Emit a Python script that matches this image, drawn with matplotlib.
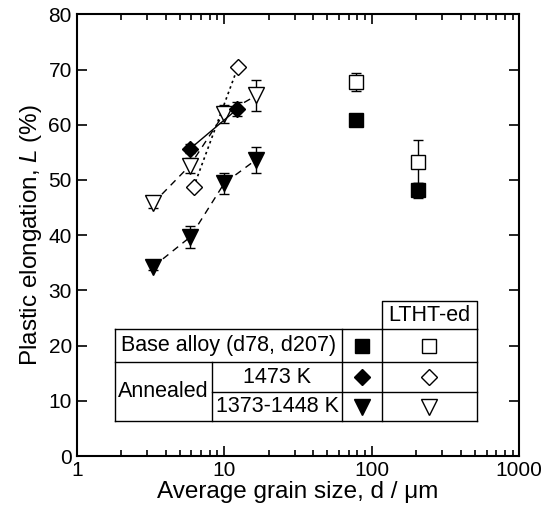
import matplotlib
matplotlib.use("Agg")
import matplotlib.pyplot as plt

plt.rcParams["font.family"] = ["Liberation Sans", "DejaVu Sans"]
plt.rcParams["mathtext.fontset"] = "custom"
plt.rcParams["mathtext.it"] = "Liberation Sans:italic"

# --- data ---
# base alloy (d78, d207)
base_d = [78, 207]
base_L = [60.9, 48.1]
base_err = [1.1, 1.3]
base_lt_L = [67.7, 53.3]
base_lt_err = [1.6, 3.9]

# annealed at 1473 K
ann1473_d = [5.9, 12.2]
ann1473_L = [55.7, 62.8]
ann1473_err = [0.8, 1.3]
ann1473_lt_d = [6.2, 12.4]
ann1473_lt_L = [48.7, 70.5]

# annealed at 1373-1448 K
ann1373_d = [3.3, 5.9, 10.0, 16.3]
ann1373_L = [34.3, 39.7, 49.4, 53.6]
ann1373_err = [0.6, 2.0, 1.9, 2.3]
ann1373_lt_d = [3.3, 5.85, 9.9, 16.5]
ann1373_lt_L = [45.8, 52.6, 61.9, 65.3]
ann1373_lt_err = [0.8, 1.3, 1.6, 2.8]

fig = plt.figure(figsize=(5.42, 5.14), dpi=100)
ax = fig.add_axes([0.1415, 0.1128, 0.8166, 0.8593])

eb = dict(ecolor="black", elinewidth=1.0, capsize=3.5, capthick=1.0, color="black", lw=1.0)
filled = dict(mfc="black", mec="black", mew=1.0)
hollow = dict(mfc="white", mec="black", mew=1.0)

ax.errorbar(ann1373_d, ann1373_L, yerr=ann1373_err, fmt="v", ms=12, ls=(0, (5, 4)), **filled, **eb)
ax.errorbar(ann1373_lt_d, ann1373_lt_L, yerr=ann1373_lt_err, fmt="v", ms=12, ls=(0, (5, 4)), **hollow, **eb)
ax.errorbar(ann1473_d, ann1473_L, yerr=ann1473_err, fmt="D", ms=8, ls="-", **filled, **eb)
ax.plot(ann1473_lt_d, ann1473_lt_L, "D", ms=8, ls=(0, (1.5, 2)), color="black", lw=1.2, **hollow)
ax.errorbar(base_d, base_L, yerr=base_err, fmt="s", ms=10, ls="none", **filled, **eb)
ax.errorbar(base_d, base_lt_L, yerr=base_lt_err, fmt="s", ms=10, ls="none", **hollow, **eb)

ax.set_xscale("log")
ax.set_xlim(1, 1000)
ax.set_ylim(0, 80)
ax.set_yticks(range(0, 81, 10))
ax.set_xticks([1, 10, 100, 1000])
ax.set_xticklabels(["1", "10", "100", "1000"])
ax.tick_params(which="both", direction="in", top=True, right=True, labelsize=15, width=1.2)
ax.tick_params(which="major", length=7)
ax.tick_params(which="minor", length=4)
for s in ax.spines.values():
    s.set_linewidth(1.5)

ax.set_xlabel("Average grain size, d / \u03bcm", fontsize=17.5, labelpad=1)
ax.set_ylabel("Plastic elongation, $L$ (%)", fontsize=17.5, labelpad=3)

# --- legend table drawn inside the axes ---
x0, x1, x2, x3, x4 = 0.0865, 0.3064, 0.5987, 0.6891, 0.9037
yh, y0, y1, y2, y3 = 0.3509, 0.2875, 0.2128, 0.1449, 0.0792
segs = [
    ([x3, x3, x4, x4], [y0, yh, yh, y0]),
    ([x0, x4], [y0, y0]),
    ([x0, x4], [y3, y3]),
    ([x0, x0], [y3, y0]),
    ([x4, x4], [y3, y0]),
    ([x0, x4], [y1, y1]),
    ([x1, x4], [y2, y2]),
    ([x1, x1], [y3, y1]),
    ([x2, x2], [y3, y0]),
    ([x3, x3], [y3, y0]),
]
for xs, ys in segs:
    ax.plot(xs, ys, color="black", lw=1.0, transform=ax.transAxes, clip_on=False)

tfs = 15.5
ax.text((x3 + x4) / 2, (y0 + yh) / 2, "LTHT-ed", transform=ax.transAxes, ha="center", va="center", fontsize=tfs)
ax.text((x0 + x2) / 2, (y0 + y1) / 2, "Base alloy (d78, d207)", transform=ax.transAxes, ha="center", va="center", fontsize=tfs)
ax.text((x0 + x1) / 2, (y1 + y3) / 2, "Annealed", transform=ax.transAxes, ha="center", va="center", fontsize=tfs)
ax.text((x1 + x2) / 2, (y1 + y2) / 2, "1473 K", transform=ax.transAxes, ha="center", va="center", fontsize=tfs)
ax.text((x1 + x2) / 2, (y2 + y3) / 2, "1373-1448 K", transform=ax.transAxes, ha="center", va="center", fontsize=tfs)

rows = [((y0 + y1) / 2, "s", 10), ((y1 + y2) / 2, "D", 8), ((y2 + y3) / 2, "v", 12)]
for yc, m, ms in rows:
    ax.plot([(x2 + x3) / 2], [yc], m, ms=ms, transform=ax.transAxes, clip_on=False, **filled)
    ax.plot([(x3 + x4) / 2], [yc], m, ms=ms, transform=ax.transAxes, clip_on=False, **hollow)

fig.savefig("out.png", dpi=100)
